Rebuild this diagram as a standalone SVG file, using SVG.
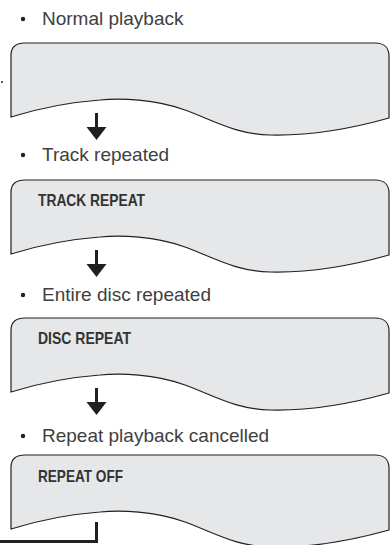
<svg xmlns="http://www.w3.org/2000/svg" width="391" height="545" viewBox="0 0 391 545">
<style>
.cap{font-family:"Liberation Sans",Arial,sans-serif;font-size:19px;fill:#404040}
.lbl{font-family:"Liberation Sans",Arial,sans-serif;font-size:16.5px;font-weight:bold;fill:#333333}
.box{fill:#e6e7e8;stroke:#231f20;stroke-width:1.2}
.bul{fill:#231f20}
.arr{fill:#231f20}
.ln{fill:none;stroke:#231f20;stroke-width:3}
</style>
<defs>
<path id="disp" class="box" d="M11,12 C11,4 16,0 25,0 L375,0 C384,0 389,5 389,13 L389,75 C350,86 310,93 270,92 C235,91 215,78 185,67 C155,56 120,55 100,57 C60,60 30,68 11,74 Z"/>
<g id="arrow"><rect x="95" y="70" width="3" height="16" class="arr"/><polygon points="86.5,84 106.5,84 96.5,97" class="arr"/></g>
</defs>
<circle cx="2" cy="82" r="1" class="bul"/>
<g id="node1">
<circle cx="23" cy="19" r="2.2" class="bul"/>
<text x="42" y="25" class="cap">Normal playback</text>
<use href="#disp" transform="translate(0,43)"/>
</g>
<g id="node2">
<circle cx="23" cy="155" r="2.2" class="bul"/>
<text x="42" y="161" class="cap">Track repeated</text>
<use href="#disp" transform="translate(0,180)"/>
<text x="38" y="206" class="lbl" textLength="107" lengthAdjust="spacingAndGlyphs">TRACK REPEAT</text>
</g>
<g id="node3">
<circle cx="23" cy="295" r="2.2" class="bul"/>
<text x="42" y="301" class="cap">Entire disc repeated</text>
<use href="#disp" transform="translate(0,318)"/>
<text x="38" y="344" class="lbl" textLength="93" lengthAdjust="spacingAndGlyphs">DISC REPEAT</text>
</g>
<g id="node4">
<circle cx="23" cy="436" r="2.2" class="bul"/>
<text x="42" y="442" class="cap">Repeat playback cancelled</text>
<use href="#disp" transform="translate(0,455)"/>
<text x="38" y="482" class="lbl" textLength="85" lengthAdjust="spacingAndGlyphs">REPEAT OFF</text>
</g>
<g id="connectors">
<use href="#arrow" transform="translate(0,43)"/>
<use href="#arrow" transform="translate(0,180)"/>
<use href="#arrow" transform="translate(0,318)"/>
<polyline points="96.5,522 96.5,541.5 0,541.5" class="ln"/>
</g>
</svg>
